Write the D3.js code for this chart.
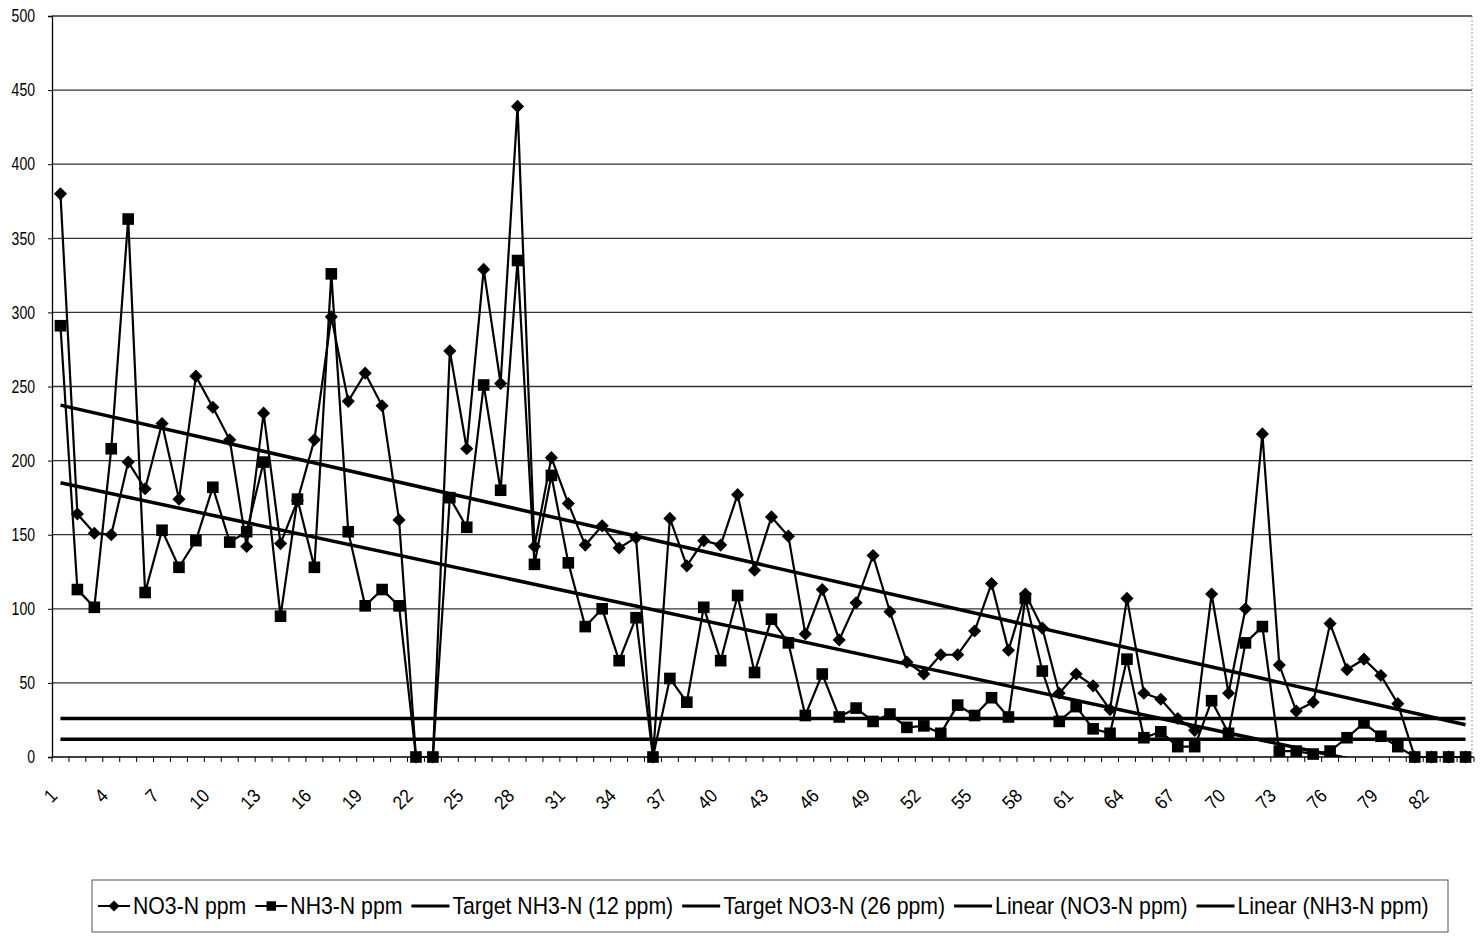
<!DOCTYPE html>
<html>
<head>
<meta charset="utf-8">
<script src="https://cdn.jsdelivr.net/npm/d3@7"></script>
<style>
  html, body { margin: 0; padding: 0; background: #fff; }
  svg { display: block; font-family: "Liberation Sans", Arial, sans-serif; }
</style>
</head>
<body>
<svg id="chart" width="1484" height="941"></svg>
<script>
// ---------- data ----------
const categories = d3.range(1, 85);
const no3 = [380,164,151,150,199,181,225,174,257,236,
             214,142,232,144,173,214,297,240,259,237,
             160,0,0,274,208,329,252,439,142,202,
             171,143,156,141,148,0,161,129,146,143,
             177,126,162,149,83,113,79,104,136,98,
             64,56,69,69,85,117,72,110,87,43,
             56,48,32,107,43,39,26,18,110,43,
             100,218,62,31,37,90,59,66,55,36,
             0,0,0,0];
const nh3 = [291,113,101,208,363,111,153,128,146,182,
             145,152,199,95,174,128,326,152,102,113,
             102,0,0,175,155,251,180,335,130,190,
             131,88,100,65,94,0,53,37,101,65,
             109,57,93,77,28,56,27,33,24,29,
             20,21,16,35,28,40,27,107,58,24,
             34,19,16,66,13,17,7,7,38,16,
             77,88,4,4,2,4,13,23,14,7,
             0,0,0,0];
const targetNH3 = 12;
const targetNO3 = 26;
const yTicks = d3.range(0, 501, 50);
const xTickLabels = d3.range(1, 85, 3);
const legendLabels = ["NO3-N ppm", "NH3-N ppm", "Target NH3-N (12 ppm)",
                      "Target NO3-N (26 ppm)", "Linear (NO3-N ppm)", "Linear (NH3-N ppm)"];

// ---------- layout ----------
const svg = d3.select("#chart");
const L = 52, R = 1474, T = 16, B = 757;
const x = d3.scaleBand().domain(categories).range([L, R]);
const cx = c => x(c) + x.bandwidth() / 2;
const y = d3.scaleLinear().domain([0, 500]).range([B, T]);
const squeeze = 0.885;

function condense(sel, f) {
  sel.each(function() {
    const w = this.getComputedTextLength();
    d3.select(this).attr("textLength", w * f).attr("lengthAdjust", "spacingAndGlyphs");
  });
}

// gridlines
svg.append("g").selectAll("line").data(yTicks.filter(v => v > 0)).join("line")
  .attr("x1", L).attr("x2", R - 2).attr("y1", d => y(d)).attr("y2", d => y(d))
  .attr("stroke", "#333").attr("stroke-width", 1.3);

// right border (faint dotted)
svg.append("line").attr("x1", R - 2).attr("x2", R - 2).attr("y1", T).attr("y2", B)
  .attr("stroke", "#9a9a9a").attr("stroke-width", 1).attr("stroke-dasharray", "2,2");

// y axis
const yAxis = svg.append("g").attr("transform", `translate(${L},0)`)
  .call(d3.axisLeft(y).tickValues(yTicks).tickSize(4).tickPadding(13).tickFormat(d3.format("d")));
yAxis.select(".domain").attr("stroke", "#000").attr("stroke-width", 1.3);
yAxis.selectAll(".tick line").attr("stroke", "#000");
yAxis.selectAll("text").attr("font-size", 18).attr("fill", "#000")
  .attr("font-family", "'Liberation Sans', Arial, sans-serif");
condense(yAxis.selectAll("text"), 0.78);

// x axis line & ticks at category boundaries
svg.append("line").attr("x1", L).attr("x2", R).attr("y1", B).attr("y2", B)
  .attr("stroke", "#000").attr("stroke-width", 1.3);
svg.append("g").selectAll("line").data(categories.concat([85])).join("line")
  .attr("x1", d => d <= 84 ? x(d) : R).attr("x2", d => d <= 84 ? x(d) : R)
  .attr("y1", B).attr("y2", B + 5).attr("stroke", "#000").attr("stroke-width", 1);

// x labels rotated
const xl = svg.append("g").selectAll("text").data(xTickLabels).join("text")
  .attr("transform", d => `translate(${cx(d) - 2},${B + 40}) rotate(-45)`)
  .attr("text-anchor", "end")
  .attr("font-size", 19).attr("fill", "#000")
  .text(d => d);
condense(xl, 0.9);

// target lines
[targetNO3, targetNH3].forEach(t => {
  svg.append("line").attr("x1", cx(1)).attr("x2", cx(84))
    .attr("y1", y(t)).attr("y2", y(t))
    .attr("stroke", "#000").attr("stroke-width", 3.5);
});

// linear trendlines (least squares on category index)
function fit(vals) {
  const xs = vals.map((v, i) => i + 1);
  const mx = d3.mean(xs), my = d3.mean(vals);
  let sxy = 0, sxx = 0;
  xs.forEach((xx, i) => { sxy += (xx - mx) * (vals[i] - my); sxx += (xx - mx) * (xx - mx); });
  const b = sxy / sxx, a = my - b * mx;
  return xx => a + b * xx;
}
svg.append("clipPath").attr("id", "plotclip").append("rect")
  .attr("x", L).attr("y", T).attr("width", R - L).attr("height", B - T);
const trendG = svg.append("g").attr("clip-path", "url(#plotclip)");
[no3, nh3].forEach(vals => {
  const f = fit(vals);
  trendG.append("line").attr("x1", cx(1)).attr("x2", cx(84))
    .attr("y1", y(f(1))).attr("y2", y(f(84)))
    .attr("stroke", "#000").attr("stroke-width", 3.5);
});

// data series
const line = d3.line().x((d, i) => cx(categories[i])).y(d => y(d));
svg.append("path").datum(no3).attr("d", line).attr("fill", "none")
  .attr("stroke", "#000").attr("stroke-width", 2.2);
svg.append("path").datum(nh3).attr("d", line).attr("fill", "none")
  .attr("stroke", "#000").attr("stroke-width", 2.2);

const diamond = d3.symbol().type(d3.symbolDiamond2).size(110);
const square = d3.symbol().type(d3.symbolSquare).size(135);
svg.append("g").selectAll("path").data(no3).join("path")
  .attr("transform", (d, i) => `translate(${cx(categories[i])},${y(d)})`)
  .attr("d", diamond).attr("fill", "#000");
svg.append("g").selectAll("path").data(nh3).join("path")
  .attr("transform", (d, i) => `translate(${cx(categories[i])},${y(d)})`)
  .attr("d", square).attr("fill", "#000");

// ---------- legend ----------
const lg = svg.append("g");
lg.append("rect").attr("x", 92).attr("y", 880).attr("width", 1356).attr("height", 52)
  .attr("fill", "#fff").attr("stroke", "#555").attr("stroke-width", 1);
let lx = 98;
const ly = 906;
const legendDiamond = d3.symbol().type(d3.symbolDiamond2).size(80);
const legendSquare = d3.symbol().type(d3.symbolSquare).size(90);
legendLabels.forEach((lab, i) => {
  const symW = i < 2 ? 32 : 38;
  lg.append("line").attr("x1", lx).attr("x2", lx + symW).attr("y1", ly).attr("y2", ly)
    .attr("stroke", "#000").attr("stroke-width", i < 2 ? 2 : 3);
  if (i === 0) lg.append("path").attr("transform", `translate(${lx + symW / 2},${ly})`).attr("d", legendDiamond).attr("fill", "#000");
  if (i === 1) lg.append("path").attr("transform", `translate(${lx + symW / 2},${ly})`).attr("d", legendSquare).attr("fill", "#000");
  const t = lg.append("text").attr("x", lx + symW + 3).attr("y", ly).attr("dy", "0.35em")
    .attr("font-size", 24).attr("fill", "#000").text(lab);
  const w = t.node().getComputedTextLength() * squeeze;
  t.attr("textLength", w).attr("lengthAdjust", "spacingAndGlyphs");
  lx += symW + 3 + w + 9;
});
</script>
</body>
</html>
